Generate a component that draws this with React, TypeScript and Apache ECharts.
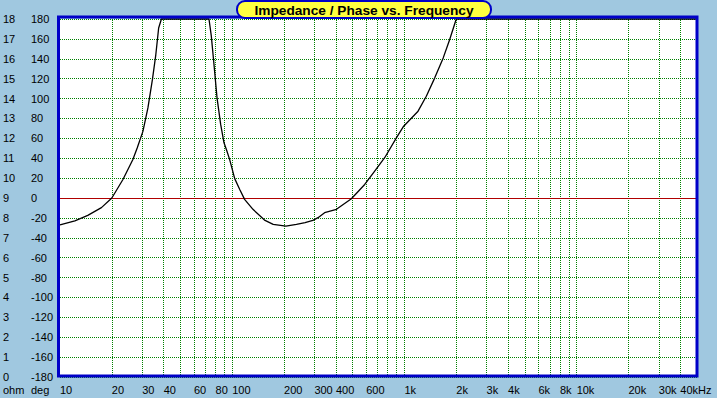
import React, { useEffect, useRef } from "react";
import * as echarts from "echarts";

const FREQ = [10, 12.2, 14.5, 17.4, 20, 23.2, 26.5, 28.1, 30.3, 32.4, 34.4, 36, 37.4, 38.8, 73.3, 75.6, 78.4, 81.6, 85.7, 89.6, 92.5, 96.6, 103.4, 110.6, 118, 132, 154, 173, 205, 236, 265, 294, 315, 344, 403, 492, 588, 672, 768, 898, 990, 1200, 1340, 1500, 1680, 1830, 2000, 50000];
const PHASE = [-27, -23, -17.5, -9.7, 0, 18.6, 38.7, 50.5, 67, 90.6, 119, 144, 171, 180, 180, 163, 134, 101, 74, 55.5, 48.8, 38.8, 19.5, 8.6, -1.4, -11.4, -22.2, -26.5, -28.2, -26.5, -24.8, -22.5, -19.8, -14.8, -11.4, -0.7, 13.6, 27, 40.5, 60.5, 72.2, 87.3, 102.3, 120.8, 140.9, 159.2, 180, 180];

const GRID_FREQS = [20, 30, 40, 50, 60, 70, 80, 90, 100, 200, 300, 400, 500, 600, 700, 800, 900, 1000, 2000, 3000, 4000, 5000, 6000, 7000, 8000, 9000, 10000, 20000, 30000, 40000];
const TICK_FREQS = [10, 20, 30, 40, 60, 80, 100, 200, 300, 400, 600, 1000, 2000, 3000, 4000, 6000, 8000, 10000, 20000, 30000, 40000];
const TICK_LABELS = ["10", "20", "30", "40", "60", "80", "100", "200", "300", "400", "600", "1k", "2k", "3k", "4k", "6k", "8k", "10k", "20k", "30k", "40kHz"];

const TITLE = "Impedance / Phase vs. Frequency";
const FONT = "'Liberation Sans', Arial, sans-serif";

export default function App() {
  const ref = useRef<HTMLDivElement>(null);
  useEffect(() => {
    document.body.style.margin = "0";
    const chart = echarts.init(ref.current!, null, { renderer: "svg" });
    const data = FREQ.map((f, i) => [f, PHASE[i]]);
    const green = "#008000";
    const gridLines: any[] = GRID_FREQS.map((f) => ({
      xAxis: f,
      lineStyle: { color: green, type: [1, 1], width: 1 },
      label: { show: false },
    }));
    const tickLabels: any[] = TICK_FREQS.map((f, i) => ({
      xAxis: f,
      lineStyle: { color: f === 10 ? "rgba(0,0,0,0)" : green, type: [1, 1], width: 1 },
      label: {
        show: true,
        position: "start",
        formatter: TICK_LABELS[i],
        color: "#000",
        fontSize: 11,
        fontFamily: FONT,
        align: "left",
        verticalAlign: "top",
        distance: 7,
      },
    }));
    chart.setOption({
      animation: false,
      backgroundColor: "#A0C8E0",
      grid: {
        left: 60,
        top: 19,
        width: 637,
        height: 358,
        show: true,
        backgroundColor: "#ffffff",
        borderWidth: 0,
      },
      xAxis: {
        type: "log",
        logBase: 10,
        min: 10,
        max: 50000,
        axisLine: { show: false },
        axisTick: { show: false },
        axisLabel: { show: false },
        splitLine: { show: false },
      },
      yAxis: [
        {
          type: "value",
          min: -180,
          max: 180,
          interval: 20,
          position: "left",
          axisLine: { show: false },
          axisTick: { show: false },
          axisLabel: {
            color: "#000",
            fontSize: 11,
            fontFamily: FONT,
            align: "left",
            margin: 29,
          },
          splitLine: { show: true, lineStyle: { color: green, type: [1, 1], width: 1 } },
        },
        {
          type: "value",
          min: 0,
          max: 18,
          interval: 1,
          position: "left",
          axisLine: { show: false },
          axisTick: { show: false },
          axisLabel: {
            color: "#000",
            fontSize: 11,
            fontFamily: FONT,
            align: "left",
            margin: 57,
          },
          splitLine: { show: false },
        },
      ],
      series: [
        {
          type: "line",
          data,
          showSymbol: false,
          symbol: "none",
          clip: false,
          z: 3,
          lineStyle: { color: "#000", width: 1.3 },
          markLine: {
            silent: true,
            symbol: ["none", "none"],
            z: 1,
            label: { show: false },
            data: [
              ...gridLines,
              ...tickLabels,
              {
                yAxis: 0,
                lineStyle: { color: "#B00000", type: "solid", width: 1 },
                label: { show: false },
              },
            ],
          },
        },
      ],
      graphic: [
        {
          type: "rect",
          z: 100,
          silent: true,
          shape: { x: 58.5, y: 17, width: 638.5, height: 359 },
          style: { fill: "none", stroke: "#0000C8", lineWidth: 3 },
        },
        {
          type: "rect",
          z: 101,
          silent: true,
          shape: { x: 237, y: 1, width: 254, height: 17, r: 8 },
          style: { fill: "#FFFF40", stroke: "#0000C8", lineWidth: 2 },
        },
        {
          type: "text",
          z: 102,
          silent: true,
          x: 364,
          y: 10,
          style: {
            text: TITLE,
            fill: "#000",
            font: `bold 13.7px ${FONT}`,
            align: "center",
            verticalAlign: "middle",
          },
        },
        {
          type: "text",
          silent: true,
          x: 3,
          y: 390,
          style: { text: "ohm", fill: "#000", font: `11px ${FONT}`, align: "left", verticalAlign: "middle" },
        },
        {
          type: "text",
          silent: true,
          x: 31,
          y: 390,
          style: { text: "deg", fill: "#000", font: `11px ${FONT}`, align: "left", verticalAlign: "middle" },
        },
      ],
    });
    return () => chart.dispose();
  }, []);
  return <div ref={ref} style={{ width: 717, height: 398 }} />;
}
